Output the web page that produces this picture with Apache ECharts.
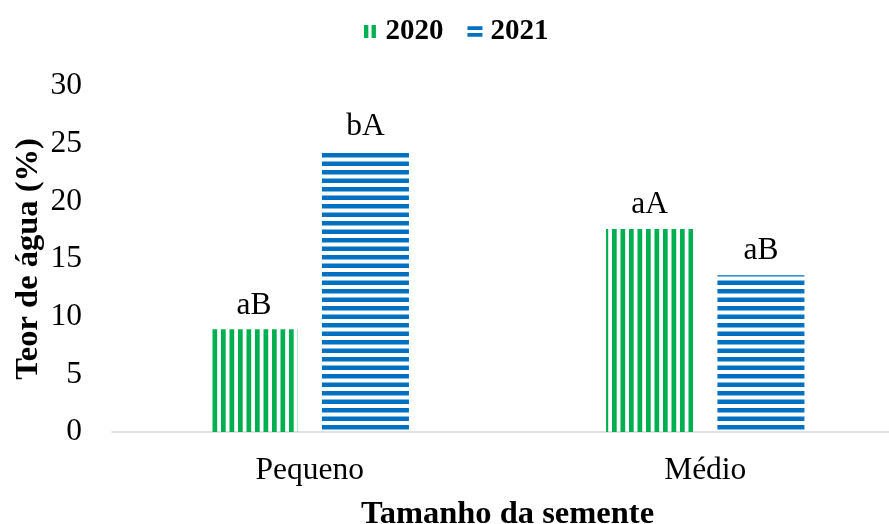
<!DOCTYPE html>
<html>
<head>
<meta charset="utf-8">
<script src="https://cdn.jsdelivr.net/npm/echarts@6/dist/echarts.min.js"></script>
<style>
  html, body { margin: 0; padding: 0; background: #fff; }
  #chart { width: 889px; height: 524px; }
</style>
</head>
<body>
<div id="chart"></div>
<script>
var categories = ['Pequeno', 'Médio'];
var years = ['2020', '2021'];
var values2020 = [8.9, 17.6];
var values2021 = [24.4, 13.6];
var labels2020 = ['aB', 'aA'];
var labels2021 = ['bA', 'aB'];
var yTicks = { min: 0, max: 30, interval: 5 };

var FONT = '"Liberation Serif", "Times New Roman", serif';
var GREEN = '#00b050';
var BLUE = '#0070c0';

// striped fills, like the excel pattern fills
function stripes(color, vertical) {
    var c = document.createElement('canvas');
    c.width = 17; c.height = 17;
    var ctx = c.getContext('2d');
    ctx.fillStyle = color;
    if (vertical) {
        ctx.fillRect(0, 0, 4.7, 17);
        ctx.fillRect(8.5, 0, 4.7, 17);
    } else {
        ctx.fillRect(0, 0, 17, 4.5);
        ctx.fillRect(0, 8.5, 17, 4.5);
    }
    return { image: c, repeat: 'repeat' };
}

function labelFmt(arr) {
    return function (p) { return arr[p.dataIndex]; };
}

var option = {
    backgroundColor: '#fff',
    animation: false,
    textStyle: { fontFamily: FONT },
    legend: {
        top: 12,
        left: 359,
        itemWidth: 15,
        itemHeight: 13,
        itemGap: 24,
        textStyle: { fontFamily: FONT, fontSize: 29, fontWeight: 'bold', color: '#000', padding: [0, 0, 0, 3] },
        data: [
            { name: years[0], icon: 'path://M0,0h4v12h-4z M7,0h4v12h-4z', itemStyle: { color: GREEN } },
            { name: years[1], icon: 'path://M0,0h16v4h-16z M0,7h16v4h-16z', itemStyle: { color: BLUE } }
        ]
    },
    grid: { left: 112, right: -14, top: 86, bottom: 92, outerBoundsMode: 'none' },
    xAxis: {
        type: 'category',
        data: categories,
        name: 'Tamanho da semente',
        nameLocation: 'middle',
        nameGap: 66,
        nameMoveOverlap: false,
        nameTextStyle: { fontFamily: FONT, fontSize: 32.5, fontWeight: 'bold', color: '#000' },
        axisLine: { lineStyle: { color: '#d9d9d9', width: 1.5 } },
        axisTick: { show: false },
        axisLabel: { fontFamily: FONT, fontSize: 31.5, color: '#000', margin: 23 }
    },
    yAxis: {
        type: 'value',
        min: yTicks.min,
        max: yTicks.max,
        interval: yTicks.interval,
        name: 'Teor de água (%)',
        nameLocation: 'middle',
        nameGap: 67,
        nameMoveOverlap: false,
        nameTextStyle: { fontFamily: FONT, fontSize: 32.5, fontWeight: 'bold', color: '#000' },
        axisLine: { show: false },
        axisTick: { show: false },
        splitLine: { show: false },
        axisLabel: { fontFamily: FONT, fontSize: 31.5, color: '#000', margin: 30 }
    },
    series: [
        {
            name: years[0],
            type: 'bar',
            data: values2020,
            barWidth: 87,
            barGap: '28%',
            itemStyle: { color: stripes(GREEN, true) },
            label: {
                show: true, position: 'top', distance: 8,
                formatter: labelFmt(labels2020),
                fontFamily: FONT, fontSize: 31.5, color: '#000'
            }
        },
        {
            name: years[1],
            type: 'bar',
            data: values2021,
            barWidth: 87,
            barGap: '28%',
            itemStyle: { color: stripes(BLUE, false) },
            label: {
                show: true, position: 'top', distance: 8,
                formatter: labelFmt(labels2021),
                fontFamily: FONT, fontSize: 31.5, color: '#000'
            }
        }
    ]
};

var chart = echarts.init(document.getElementById('chart'));
chart.setOption(option);
</script>
</body>
</html>
